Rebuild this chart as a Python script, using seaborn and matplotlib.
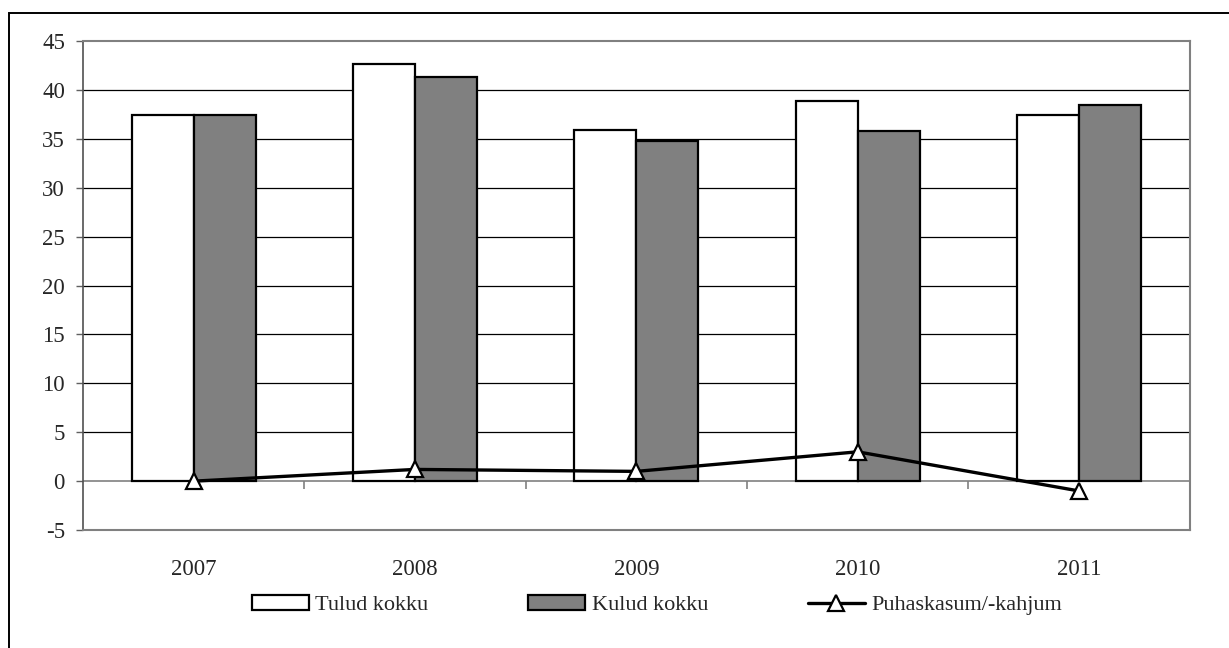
import pandas as pd
import seaborn as sns
import matplotlib.pyplot as plt
import numpy as np
from matplotlib.patches import Rectangle, Patch
from matplotlib.lines import Line2D

years = ["2007", "2008", "2009", "2010", "2011"]
tulud = [37.4, 42.6, 35.9, 38.9, 37.4]
kulud = [37.4, 41.3, 34.8, 35.8, 38.5]
puhaskasum = [0.0, 1.2, 1.0, 3.0, -1.0]
series_names = ["Tulud kokku", "Kulud kokku", "Puhaskasum/-kahjum"]

sns.set_style("white")
plt.rcParams['font.family'] = ['Liberation Serif', 'DejaVu Serif']
plt.rcParams['axes.unicode_minus'] = False

df = pd.DataFrame({
    "year": years * 2,
    "value": tulud + kulud,
    "series": [series_names[0]] * len(years) + [series_names[1]] * len(years),
})

fig = plt.figure(figsize=(12.29, 6.48), dpi=100)
ax = fig.add_axes([0.0675, 0.182, 0.9005, 0.7547])

# grid lines behind bars
for y in range(5, 45, 5):
    ax.axhline(y, color="black", lw=0.9, zorder=0)

sns.barplot(data=df, x="year", y="value", hue="series",
            palette=["white", "#808080"], width=0.56, gap=0,
            edgecolor="black", linewidth=1.6, ax=ax, legend=False, zorder=2)

# zero line + boundary ticks
ax.axhline(0, color="#808080", lw=1.2, zorder=1)
ax.vlines(np.arange(len(years) - 1) + 0.5, -0.8, 0, color="#808080", lw=1.2, zorder=1)

ax.plot(np.arange(len(years)), puhaskasum, color="black", lw=2.4,
        marker="^", markersize=11, markerfacecolor="white",
        markeredgecolor="black", markeredgewidth=1.6, zorder=5, clip_on=False)

ax.set_ylim(-5, 45)
ax.set_xlim(-0.5, len(years) - 0.5)
ax.set_yticks(range(-5, 50, 5))
ax.set_xlabel("")
ax.set_ylabel("")
ax.tick_params(axis="y", length=5, color="#606060", width=1, pad=8, labelsize=16.5, left=True)
ax.tick_params(axis="x", length=0, pad=21, labelsize=16.5)

for side in ["top", "right", "bottom"]:
    ax.spines[side].set_color("#808080")
    ax.spines[side].set_linewidth(1.5)
ax.spines["left"].set_color("#505050")
ax.spines["left"].set_linewidth(1.2)

handles = [
    Patch(facecolor="white", edgecolor="black", linewidth=1.6),
    Patch(facecolor="#808080", edgecolor="black", linewidth=1.6),
    Line2D([], [], color="black", lw=2.4, marker="^", markersize=11,
           markerfacecolor="white", markeredgecolor="black", markeredgewidth=1.6),
]
fig.legend(handles, series_names, loc="center", bbox_to_anchor=(657 / 1229, 1 - 605 / 648),
           ncol=3, frameon=False, fontsize=16, handlelength=2.55, handleheight=0.65,
           handletextpad=0.3, columnspacing=4.5)

# outer chart frame (left and top edges visible)
fig.patches.append(Rectangle((9 / 1229, -0.1), 1.2, 1 - 13 / 648 + 0.1,
                             transform=fig.transFigure, fill=False,
                             edgecolor="black", lw=1.4))

fig.savefig("out.png", dpi=100)
